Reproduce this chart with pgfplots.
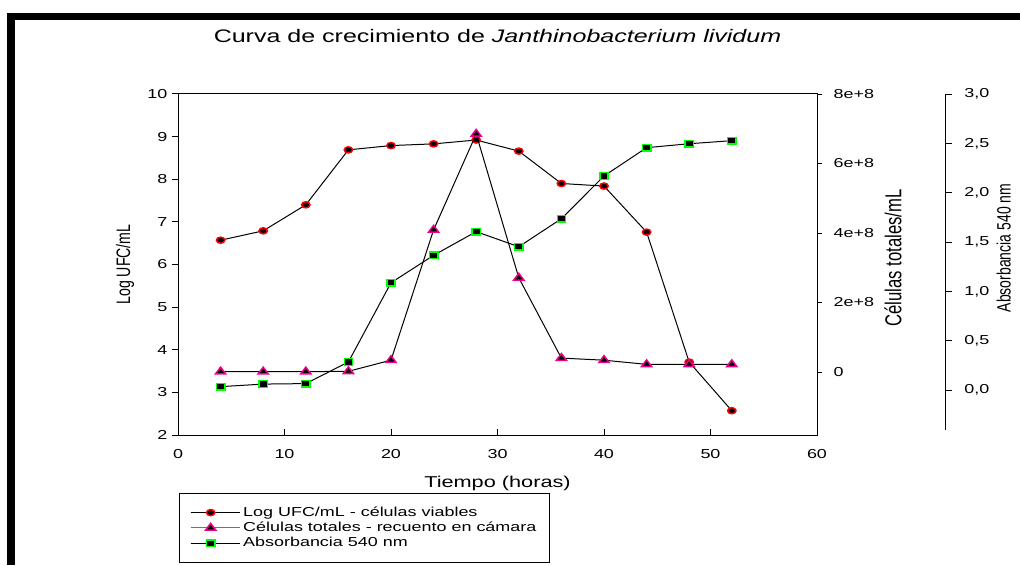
\documentclass[border=0pt]{standalone}
\usepackage{pgfplots}
\pgfplotsset{compat=1.18}
\usepackage{pgfplotstable}
\usepackage{fontspec}
\setmainfont{Liberation Sans}[FakeStretch=1.38]
\newfontfamily\rotfont{Liberation Sans}

\pgfplotstableread{
t ufc
4 6.57
8 6.79
12 7.40
16 8.69
20 8.79
24 8.83
28 8.92
32 8.66
36 7.90
40 7.84
44 6.76
48 3.71
52 2.57
}\ufcdata
\pgfplotstableread{
t cel
4 1e6
8 1e6
12 1e6
16 2e6
20 3.4e7
24 4.09e8
28 6.85e8
32 2.71e8
36 4.0e7
40 3.4e7
44 2.2e7
48 2.2e7
52 2.2e7
}\celdata
\pgfplotstableread{
t abs
4 0.034
8 0.060
12 0.065
16 0.284
20 1.087
24 1.365
28 1.605
32 1.452
36 1.736
40 2.169
44 2.456
48 2.496
52 2.527
}\absdata

\pgfplotsset{
  ufcstyle/.style={black, line width=0.75pt, mark=*, mark size=2.3pt,
    mark options={fill=black, draw=red, line width=1.1pt, xscale=1.37}},
  celstyle/.style={black, line width=0.75pt, mark=triangle*, mark size=3.4pt,
    mark options={fill=black, draw=magenta, line width=1.1pt, xscale=1.3}},
  absstyle/.style={black, line width=0.75pt, mark=square*, mark size=2.5pt,
    mark options={fill=black, draw=green, line width=1.1pt, xscale=1.25}},
}

\begin{document}
\begin{tikzpicture}
\path[use as bounding box] (0,0) rectangle (765pt,423.75pt);
\fill[black] (5.25pt,414pt) rectangle (765pt,408.75pt);
\fill[black] (5.25pt,414pt) rectangle (11.25pt,0pt);

\pgfplotsset{
  every axis/.append style={scale only axis, width=479.25pt, height=255.75pt,
    at={(133.5pt,97.5pt)}, anchor=south west, xmin=0, xmax=60,
    font=\fontsize{9.75}{11.7}\selectfont,
    /pgf/number format/assume math mode=true,
    axis line style={line width=0.75pt}, clip=false,
    major tick style={line width=0.75pt, black},
    legend image code/.code={\path (0pt,0pt) -- (37pt,0pt);\draw[mark repeat=2,mark phase=2,##1] plot coordinates {(0pt,0pt) (15pt,0pt) (30pt,0pt)};}},
}

% main axis: Log UFC/mL
\begin{axis}[
  ymin=2, ymax=10,
  xtick={0,10,...,60}, ytick={2,3,...,10},
  xtick pos=bottom, ytick pos=left,
  xtick align=inside, ytick align=outside,
  major tick length=4.5pt,
  xticklabel style={yshift=-7.5pt},
  title={Curva de crecimiento de \textit{Janthinobacterium lividum}},
  title style={at={(axis description cs:0.5,1)}, anchor=base, yshift=32.5pt, font=\fontsize{13.6}{16}\selectfont},
  xlabel={Tiempo (horas)},
  xlabel style={at={(axis description cs:0.5,0)}, anchor=base, yshift=-39.5pt, font=\fontsize{11.8}{14}\selectfont},
  ylabel={\rotfont\scalebox{1}[1.38]{Log UFC/mL}},
  ylabel style={at={(axis description cs:-0.083,0.5)}, anchor=center, font=\fontsize{10.6}{12}\selectfont},
]
\addplot[ufcstyle] table[x=t,y=ufc]{\ufcdata};
\end{axis}

% right axis: Celulas totales
\begin{axis}[
  ymin=-1.813e8, ymax=8e8,
  axis x line=none, axis y line*=right,
  ytick={0,2e8,4e8,6e8,8e8}, yticklabels={0,2e+8,4e+8,6e+8,8e+8},
  ytick align=outside, major tick length=4pt, scaled y ticks=false,
  yticklabel style={xshift=5pt},
  ylabel={\rotfont\scalebox{1}[1.38]{Células totales/mL}},
  ylabel style={at={(axis description cs:1.119,0.519)}, anchor=center, font=\fontsize{12.5}{14}\selectfont},
]
\addplot[celstyle] table[x=t,y=cel]{\celdata};
\end{axis}

% absorbance data
\begin{axis}[
  ymin=-0.456, ymax=3,
  hide axis,
  legend style={at={(axis description cs:0.0016,-0.170)}, anchor=north west,
    draw=black, line width=0.75pt, font=\fontsize{9.75}{11.6}\selectfont,
    inner xsep=8pt, inner ysep=8pt, row sep=-1.2pt},
  legend cell align=left,
]
\addlegendimage{ufcstyle}
\addlegendentry{Log UFC/mL - células viables}
\addlegendimage{celstyle, black!55}
\addlegendentry{Células totales - recuento en cámara}
\addplot[absstyle] table[x=t,y=abs]{\absdata};
\addlegendentry{Absorbancia 540 nm}
\end{axis}

% absorbance spine
\begin{axis}[
  at={(707.75pt,101.625pt)}, width=1pt, height=251.625pt,
  xmin=0, xmax=1, ymin=-0.4, ymax=3,
  axis x line=none, axis y line*=right,
  ytick={0,0.5,1,1.5,2,2.5,3},
  yticklabels={{0,0},{0,5},{1,0},{1,5},{2,0},{2,5},{3,0}},
  ytick align=outside, major tick length=5pt,
  yticklabel style={xshift=6pt},
  ylabel={\rotfont\scalebox{1}[1.38]{Absorbancia 540 nm}},
  ylabel style={at={(axis description cs:45,0.541)}, anchor=center, font=\fontsize{10.5}{12}\selectfont},
]
\end{axis}
\end{tikzpicture}
\end{document}
